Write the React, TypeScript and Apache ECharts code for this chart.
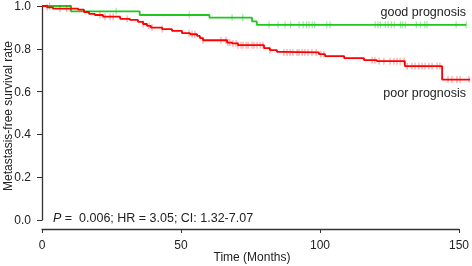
import React, { useEffect, useRef } from "react";
import * as echarts from "echarts";

// Kaplan–Meier step curves (time in months, survival proportion)
const goodTimes = [0, 10.4, 34.9, 59.8, 75.0, 76.7, 151.5];
const goodSurv = [1.0, 0.975, 0.958, 0.946, 0.928, 0.912, 0.912];
const goodCensor = [2.7, 26.5, 52.6, 67.9, 71.7, 81.1, 84.3, 86.8, 88.8, 91.8, 93.3, 94.5, 95.4, 96.5, 97.4, 101.7, 102.9, 119.0, 120.0, 120.8, 122.6, 123.6, 124.8, 125.8, 128.0, 128.8, 129.8, 133.7, 135.1, 136.7, 137.5, 147.9, 151.5];

const poorTimes = [0, 1.8, 3.9, 12.9, 15.0, 16.8, 18.9, 21.8, 27.9, 31.4, 34.3, 36.1, 37.5, 38.9, 42.9, 46.4, 50.0, 52.9, 55.4, 56.4, 57.5, 66.1, 67.9, 70.0, 79.3, 81.4, 83.9, 85.4, 98.9, 101.1, 107.9, 115.0, 119.6, 129.6, 142.9, 152.9];
const poorSurv = [1.0, 0.994, 0.988, 0.983, 0.972, 0.963, 0.958, 0.95, 0.94, 0.935, 0.926, 0.916, 0.907, 0.899, 0.892, 0.884, 0.873, 0.868, 0.86, 0.85, 0.84, 0.829, 0.825, 0.817, 0.803, 0.794, 0.786, 0.783, 0.775, 0.766, 0.756, 0.747, 0.742, 0.719, 0.656, 0.656];
const poorCensor = [1.8, 6.4, 8.8, 10.0, 20.7, 22.5, 24.3, 25.4, 30.4, 36.1, 38.2, 39.3, 42.9, 52.5, 53.6, 54.6, 57.5, 63.9, 65.7, 66.4, 67.1, 68.2, 69.3, 70.0, 71.1, 71.8, 72.9, 73.6, 75.0, 75.7, 76.8, 77.9, 78.9, 81.4, 86.4, 87.5, 88.6, 89.6, 91.1, 91.8, 92.9, 93.9, 95.0, 96.4, 97.9, 99.6, 100.7, 117.9, 118.9, 120.4, 122.1, 124.3, 125.7, 126.8, 127.9, 129.3, 130.4, 132.1, 133.2, 134.6, 135.7, 136.8, 138.2, 139.3, 141.1, 142.1, 145.0, 146.4, 148.2, 149.3, 152.5];

const xTicks = [0, 50, 100, 150];
const yTicks = [0, 0.2, 0.4, 0.6, 0.8, 1.0];

const FONT = "Liberation Sans, Arial, Helvetica, sans-serif";
const GREEN = "#1ec81e";
const RED = "#ff0000";

function survAt(times: number[], surv: number[], t: number) {
  let v = surv[0];
  for (let i = 0; i < times.length; i++) if (times[i] <= t) v = surv[i];
  return v;
}

export default function App() {
  const ref = useRef<HTMLDivElement>(null);
  useEffect(() => {
    if (!ref.current) return;
    const chart = echarts.init(ref.current, null, { renderer: "svg" });
    const goodLine = goodTimes.map((t, i) => [t, goodSurv[i]]);
    const poorLine = poorTimes.map((t, i) => [t, poorSurv[i]]);
    const goodMarks = goodCensor.map((t) => [t, survAt(goodTimes, goodSurv, t)]);
    const poorMarks = poorCensor.map((t) => [t, survAt(poorTimes, poorSurv, t)]);
    chart.setOption({
      animation: false,
      grid: [
        { left: 42, top: 5, right: 0, bottom: 46 },
        { left: 42, width: 420, top: 228, height: 1 },
      ],
      xAxis: [
        { gridIndex: 0, type: "value", min: 0, max: 430 / 2.8, show: false },
        {
          gridIndex: 1,
          type: "value",
          min: xTicks[0],
          max: xTicks[xTicks.length - 1],
          interval: 50,
          position: "bottom",
          axisLine: { show: true, lineStyle: { color: "#333", width: 1.3 } },
          axisTick: { show: true, length: 4, lineStyle: { color: "#333" } },
          axisLabel: { margin: 10, color: "#222", fontSize: 12, fontFamily: FONT },
          splitLine: { show: false },
        },
      ],
      yAxis: [
        {
          gridIndex: 0,
          type: "value",
          min: yTicks[0],
          max: yTicks[yTicks.length - 1],
          interval: 0.2,
          axisLine: { show: true, lineStyle: { color: "#333", width: 1.3 } },
          axisTick: { show: true, length: 5, lineStyle: { color: "#333" } },
          axisLabel: {
            margin: 11,
            color: "#222",
            fontSize: 12,
            fontFamily: FONT,
            formatter: (v: number) => v.toFixed(1),
          },
          splitLine: { show: false },
        },
        { gridIndex: 1, type: "value", show: false, min: 0, max: 1 },
      ],
      series: [
        {
          type: "line",
          step: "end",
          data: goodLine,
          xAxisIndex: 0,
          yAxisIndex: 0,
          showSymbol: false,
          clip: false,
          lineStyle: { color: GREEN, width: 1.8 },
          z: 2,
        },
        {
          type: "scatter",
          data: goodMarks,
          xAxisIndex: 0,
          yAxisIndex: 0,
          symbol: "rect",
          symbolSize: [1.2, 7],
          itemStyle: { color: "rgba(30,200,30,0.55)" },
          clip: false,
          z: 3,
        },
        {
          type: "line",
          step: "end",
          data: poorLine,
          xAxisIndex: 0,
          yAxisIndex: 0,
          showSymbol: false,
          clip: false,
          lineStyle: { color: RED, width: 1.8 },
          z: 4,
        },
        {
          type: "scatter",
          data: poorMarks,
          xAxisIndex: 0,
          yAxisIndex: 0,
          symbol: "rect",
          symbolSize: [1.2, 7],
          itemStyle: { color: "rgba(255,0,0,0.45)" },
          clip: false,
          z: 5,
        },
      ],
      graphic: [
        {
          type: "text",
          x: 466,
          y: 12,
          style: { text: "good prognosis", align: "right", verticalAlign: "middle", fontSize: 12.5, fontFamily: FONT, fill: "#222" },
        },
        {
          type: "text",
          x: 466,
          y: 93,
          style: { text: "poor prognosis", align: "right", verticalAlign: "middle", fontSize: 12.5, fontFamily: FONT, fill: "#222" },
        },
        {
          type: "text",
          x: 53,
          y: 218,
          style: {
            text: "{i|P} =  0.006; HR = 3.05; CI: 1.32-7.07",
            verticalAlign: "middle",
            fontSize: 12.5,
            fontFamily: FONT,
            fill: "#222",
            rich: { i: { fontStyle: "italic", fontSize: 12.5, fontFamily: FONT, fill: "#222" } },
          },
        },
        {
          type: "text",
          x: 8,
          y: 116,
          rotation: Math.PI / 2,
          style: { text: "Metastasis-free survival rate", align: "center", verticalAlign: "middle", fontSize: 12, fontFamily: FONT, fill: "#222" },
        },
        {
          type: "text",
          x: 252,
          y: 257,
          style: { text: "Time (Months)", align: "center", verticalAlign: "middle", fontSize: 12, fontFamily: FONT, fill: "#222" },
        },
      ],
    });
    return () => chart.dispose();
  }, []);
  return <div ref={ref} style={{ position: "fixed", left: 0, top: 0, width: 472, height: 266 }} />;
}
